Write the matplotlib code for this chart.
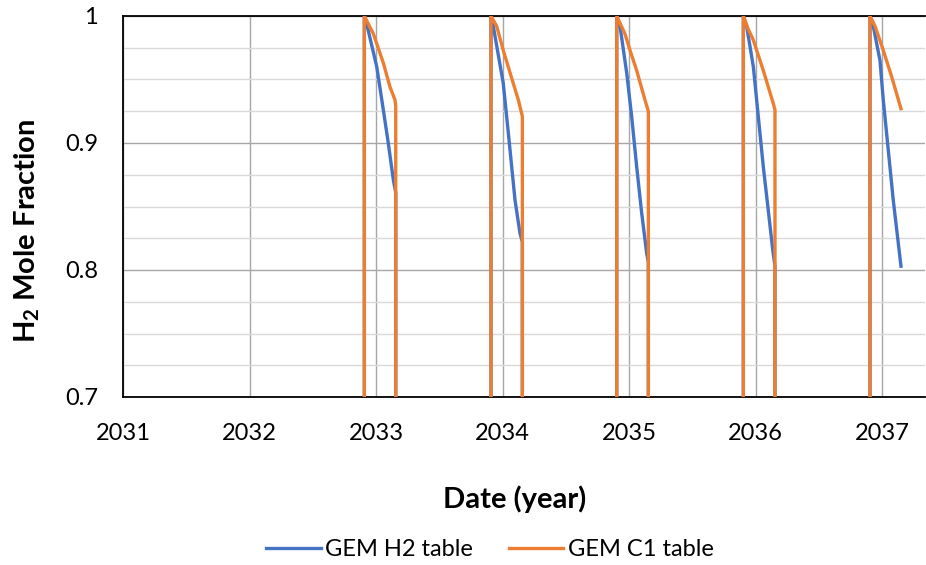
import matplotlib
matplotlib.use("Agg")
import matplotlib.pyplot as plt
import numpy as np

plt.rcParams['font.family'] = ['Lato', 'DejaVu Sans']
plt.rcParams['mathtext.fontset'] = 'custom'
plt.rcParams['mathtext.rm'] = 'Lato:bold'
plt.rcParams['mathtext.bf'] = 'Lato:bold'

# ---- data (decimal year, mole fraction) per injection/withdrawal cycle ----
h2_cycle_t = [
    [2032.908, 2032.926, 2033.006, 2033.058, 2033.097, 2033.137, 2033.156],
    [2033.909, 2033.927, 2034.006, 2034.046, 2034.099, 2034.138, 2034.157],
    [2034.903, 2034.929, 2034.982, 2035.021, 2035.061, 2035.100, 2035.140, 2035.153],
    [2035.904, 2035.930, 2035.983, 2036.022, 2036.062, 2036.101, 2036.136, 2036.154],
    [2036.905, 2036.931, 2036.984, 2037.010, 2037.050, 2037.089, 2037.150],
]
h2_cycle_v = [
    [1.000, 0.994, 0.960, 0.926, 0.900, 0.871, 0.861],
    [1.000, 0.992, 0.947, 0.908, 0.855, 0.829, 0.822],
    [1.000, 0.992, 0.955, 0.921, 0.881, 0.845, 0.813, 0.806],
    [1.000, 0.992, 0.960, 0.921, 0.881, 0.847, 0.816, 0.803],
    [1.000, 0.992, 0.965, 0.934, 0.894, 0.855, 0.803],
]
c1_cycle_t = [
    [2032.908, 2032.979, 2033.058, 2033.111, 2033.150, 2033.156],
    [2033.909, 2033.954, 2034.006, 2034.085, 2034.125, 2034.152, 2034.157],
    [2034.903, 2034.968, 2035.008, 2035.061, 2035.126, 2035.153],
    [2035.904, 2035.941, 2035.983, 2036.062, 2036.141, 2036.154],
    [2036.905, 2036.945, 2037.010, 2037.077, 2037.150],
]
c1_cycle_v = [
    [1.000, 0.986, 0.963, 0.944, 0.934, 0.929],
    [1.000, 0.992, 0.973, 0.947, 0.934, 0.923, 0.921],
    [1.000, 0.986, 0.973, 0.957, 0.934, 0.925],
    [1.000, 0.990, 0.981, 0.957, 0.931, 0.926],
    [1.000, 0.992, 0.973, 0.952, 0.927],
]
off_value = 0.0          # value between cycles (below the visible range)
start_year = 2031.0
year_ticks = [2031, 2032, 2033, 2034, 2035, 2036, 2037]
y_ticks = [0.7, 0.8, 0.9, 1.0]
y_tick_labels = ['0.7', '0.8', '0.9', '1']
series_names = ['GEM H2 table', 'GEM C1 table']


def build(ts, vs):
    t_all, v_all = [start_year], [off_value]
    n = len(ts)
    for i, (t, v) in enumerate(zip(ts, vs)):
        t_all += [t[0]] + t
        v_all += [off_value] + v
        if i < n - 1:
            t_all.append(t[-1])
            v_all.append(off_value)
    return np.array(t_all), np.array(v_all)


W, H = 926, 565
fig = plt.figure(figsize=(W / 100, H / 100), dpi=100)
ax = fig.add_axes([123 / W, 1 - 397 / H, (925 - 123) / W, (397 - 16) / H])

blue = '#4472C4'
orange = '#ED7D31'
th, vh = build(h2_cycle_t, h2_cycle_v)
tc, vc = build(c1_cycle_t, c1_cycle_v)
ax.plot(th, vh, color=blue, lw=2.4, zorder=3, label=series_names[0])
ax.plot(tc, vc, color=orange, lw=2.4, zorder=4, label=series_names[1])

ax.set_xlim(start_year, start_year + (925 - 123) / 126.5)
ax.set_ylim(0.7, 1.0)
ax.set_xticks(year_ticks)
ax.set_xticklabels([str(y) for y in year_ticks])
ax.set_yticks(y_ticks)
ax.set_yticklabels(y_tick_labels)
ax.set_yticks(np.arange(0.725, 1.0, 0.025), minor=True)
ax.tick_params(axis='both', which='both', length=0, labelsize=17, colors='black')
ax.tick_params(axis='x', pad=19)
ax.tick_params(axis='y', pad=18)

ax.grid(True, which='major', axis='both', color='#a6a6a6', lw=1.0, zorder=1)
ax.grid(True, which='minor', axis='y', color='#d9d9d9', lw=1.0, zorder=0)
ax.set_axisbelow(True)

for s in ['left', 'bottom', 'top']:
    ax.spines[s].set_color('black')
    ax.spines[s].set_linewidth(1.3)
ax.spines['right'].set_visible(False)

fig.text(515 / W, 1 - 499 / H, 'Date (year)', fontsize=21, fontweight='bold',
         ha='center', va='center')
fig.text(27 / W, 1 - 231 / H, r'H$_{2}$ Mole Fraction', fontsize=21, fontweight='bold',
         ha='center', va='center', rotation=90)

fig.legend(loc='center', bbox_to_anchor=(490 / W, 1 - 550 / H), ncol=2, frameon=False,
           fontsize=17, handlelength=2.3, handletextpad=0.2, columnspacing=1.5)

fig.savefig('out.png', dpi=100)
